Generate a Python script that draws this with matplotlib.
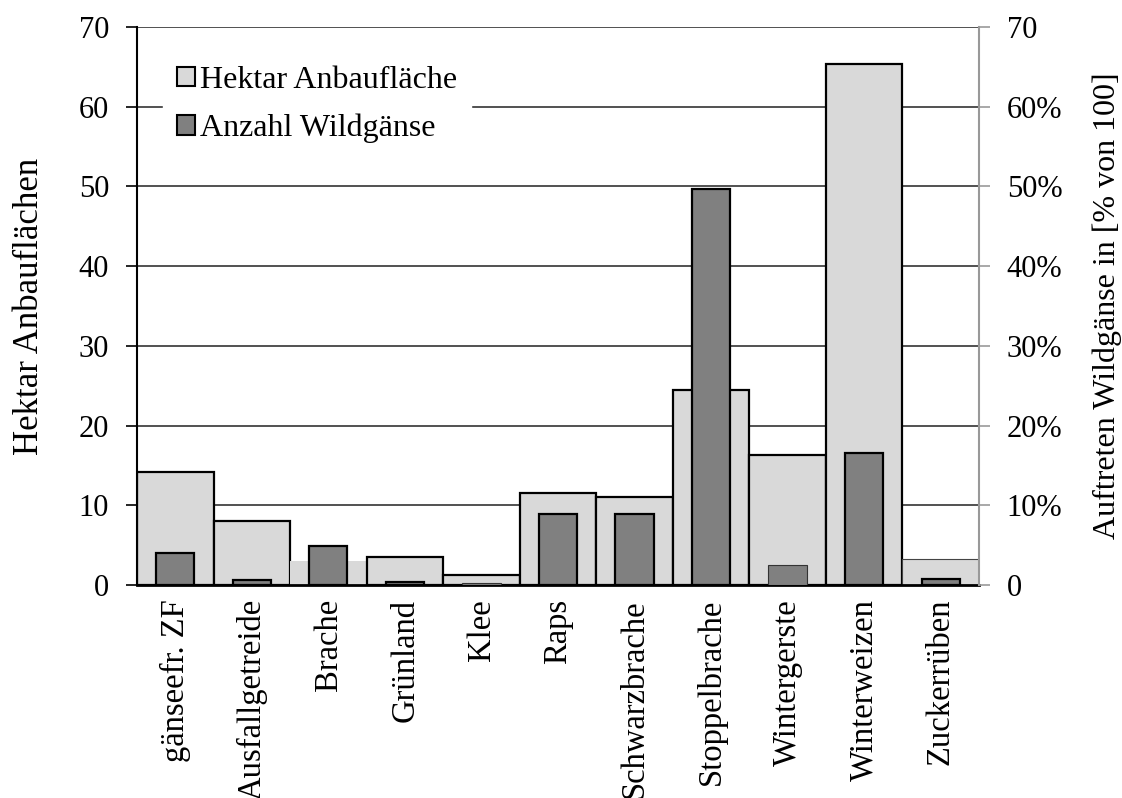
import numpy as np
import matplotlib.pyplot as plt
from matplotlib.patches import Patch

plt.rcParams['font.family'] = ['Liberation Serif', 'DejaVu Serif']

# Kulturen und Werte
kulturen = ["gänseefr. ZF", "Ausfallgetreide", "Brache", "Grünland", "Klee", "Raps",
            "Schwarzbrache", "Stoppelbrache", "Wintergerste", "Winterweizen", "Zuckerrüben"]
hektar = [14.2, 8.0, 3.0, 3.55, 1.25, 11.6, 11.1, 24.5, 16.3, 65.3, 3.3]
gaense_proz = [4.0, 0.6, 4.9, 0.4, 0.2, 8.95, 8.87, 49.7, 2.55, 16.6, 0.8]

# Randlinien der Balken (wie im Excel-Export, nicht überall gleich)
rand_hell = [1.6, 1.6, 0, 1.6, 1.6, 1.6, 1.6, 1.6, 1.6, 1.6, 0.8]
farbe_rand_hell = ['black'] * 10 + ['#444444']
rand_dunkel = [1.6, 1.6, 1.6, 1.6, 0.8, 1.6, 1.6, 1.6, 0.8, 1.6, 1.6]
farbe_rand_dunkel = ['black'] * 8 + ['#333333', 'black', 'black']
farbe_rand_dunkel[4] = '#333333'

x = np.arange(len(kulturen))

fig = plt.figure(figsize=(11.22, 7.98), dpi=100)
ax = fig.add_axes([137/1122, 1-585/798, (979-137)/1122, (585-27)/798])

ax.set_axisbelow(True)
ax.yaxis.grid(True, color='#333333', linewidth=1.2)
ax.bar(x, hektar, width=1.0, color='#d9d9d9', edgecolor=farbe_rand_hell,
       linewidth=rand_hell, zorder=2)

ax2 = ax.twinx()
ax2.bar(x, gaense_proz, width=0.5, color='#808080', edgecolor=farbe_rand_dunkel,
        linewidth=rand_dunkel, zorder=3)

for a in (ax, ax2):
    a.set_xlim(-0.5, len(kulturen) - 0.5)
    a.set_ylim(0, 70)
    a.set_yticks(np.arange(0, 71, 10))

ax.set_yticklabels([str(v) for v in range(0, 71, 10)], fontsize=22)
ax2.set_yticklabels(['0'] + ['%d%%' % v for v in range(10, 70, 10)] + ['70'], fontsize=22)

# Kategoriegrenzen als Striche, Beschriftung in der Mitte
ax.set_xticks(np.arange(-0.5, len(kulturen), 1.0))
ax.set_xticklabels([])
ax.set_xticks(x, minor=True)
ax.set_xticklabels(kulturen, minor=True, rotation=90, fontsize=23.5, va='top')
ax.tick_params(axis='x', which='major', length=12, width=1.2, color='#333333')
ax.tick_params(axis='x', which='minor', length=0, pad=10)
ax.tick_params(axis='y', length=8, width=1.2, pad=12)
ax2.tick_params(axis='y', length=8, width=1.2, color='#999999', pad=12)
ax2.set_xticks([])

ax.spines['top'].set_visible(False)
ax2.spines['top'].set_visible(False)
ax.spines['right'].set_visible(False)
ax2.spines['left'].set_visible(False)
ax2.spines['bottom'].set_visible(False)
ax2.spines['right'].set_color('#999999')
ax2.spines['right'].set_linewidth(1.5)
ax.spines['left'].set_linewidth(1.5)
ax.spines['bottom'].set_linewidth(2)

ax.set_ylabel('Hektar Anbauflächen', fontsize=25, labelpad=24)
ax2.set_ylabel('Auftreten Wildgänse in [% von 100]', fontsize=23, labelpad=22)

handles = [Patch(facecolor='#d9d9d9', edgecolor='black', linewidth=1.5, label='Hektar Anbaufläche'),
           Patch(facecolor='#808080', edgecolor='black', linewidth=1.5, label='Anzahl Wildgänse')]
leg = ax2.legend(handles=handles, loc='upper left', bbox_to_anchor=(0.012, 0.985),
                 fontsize=23, frameon=True, fancybox=False, handlelength=0.55,
                 handleheight=0.55, handletextpad=0.15, labelspacing=0.6, borderpad=0.45)
leg.get_frame().set_edgecolor('white')
leg.get_frame().set_alpha(1)

fig.savefig('out.png', dpi=100)
